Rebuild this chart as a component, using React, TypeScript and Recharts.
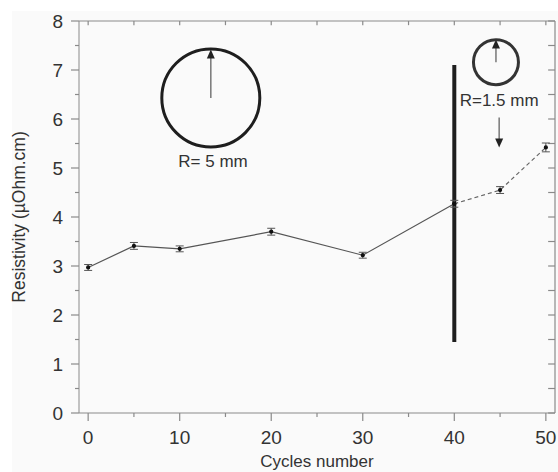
import React from "react";
import {
  ComposedChart,
  Line,
  XAxis,
  YAxis,
  ErrorBar,
  ReferenceLine,
  ReferenceDot,
  Label,
} from "recharts";

// values
const cycles = [0, 5, 10, 20, 30, 40, 45, 50];
const resistivity = [2.97, 3.41, 3.35, 3.7, 3.22, 4.27, 4.55, 5.42];
const errors = [0.06, 0.07, 0.06, 0.07, 0.06, 0.07, 0.07, 0.09];
// last point of the R=5 mm run, where the dashed R=1.5 mm run starts
const switchIndex = 5;

const xDomain: [number, number] = [-1, 51];
const yDomain: [number, number] = [0, 8];
const xTicks = [0, 5, 10, 15, 20, 25, 30, 35, 40, 45, 50];
const yTicks = [0, 0.5, 1, 1.5, 2, 2.5, 3, 3.5, 4, 4.5, 5, 5.5, 6, 6.5, 7, 7.5, 8];

const data = cycles.map((c, i) => ({
  cycle: c,
  solid: i <= switchIndex ? resistivity[i] : null,
  dashed: i >= switchIndex ? resistivity[i] : null,
  errSolid: i <= switchIndex ? errors[i] : null,
  errDashed: i > switchIndex ? errors[i] : null,
}));

const AXIS = "#8a8a8a";
const TEXT = "#333";
const FONT = "Liberation Sans, Arial, sans-serif";

const isMajorX = (v: number) => v % 10 === 0;
const isMajorY = (v: number) => Number.isInteger(v);

const LeftTick = (props: any) => {
  const { x, y, payload } = props;
  const major = isMajorY(payload.value);
  return (
    <g>
      <line x1={x} y1={y} x2={x - (major ? 8 : 4)} y2={y} stroke={AXIS} strokeWidth={1.2} />
      {major && (
        <text x={x - 16} y={y} dy="0.35em" textAnchor="end" fontSize={19} fill={TEXT} fontFamily={FONT}>
          {payload.value}
        </text>
      )}
    </g>
  );
};

const BottomTick = (props: any) => {
  const { x, y, payload } = props;
  const major = isMajorX(payload.value);
  return (
    <g>
      <line x1={x} y1={y} x2={x} y2={y + (major ? 8 : 4)} stroke={AXIS} strokeWidth={1.2} />
      {major && (
        <text x={x} y={y + 24} dy="0.35em" textAnchor="middle" fontSize={19} fill={TEXT} fontFamily={FONT}>
          {payload.value}
        </text>
      )}
    </g>
  );
};

const Arrow = (props: any) => {
  const { x1, y1, x2, y2, stroke } = props;
  const dir = y2 < y1 ? 1 : -1;
  return (
    <g>
      <line x1={x1} y1={y1} x2={x2} y2={y2 + dir * 8} stroke={stroke} strokeWidth={1.5} />
      <polygon
        points={`${x2},${y2} ${x2 - 4},${y2 + dir * 9} ${x2 + 4},${y2 + dir * 9}`}
        fill="#222"
      />
    </g>
  );
};

// inward tick marks on the top and right frame, in data units (~4px and ~7px)
const topTickLen = 0.085;
const rightTickLen = 0.75;

// annotation anchors in data units
const bigCircle = { x: 13.4, y: 6.43, top: 7.42 };
const smallCircle = { x: 44.55, y: 7.16, top: 7.62 };

export default function App() {
  return (
    <div style={{ position: "absolute", left: 0, top: 0, width: 558, height: 472, background: "#fff" }}>
      <div style={{ position: "absolute", left: 12, top: 11, right: 0, bottom: 0, background: "#fafafa" }} />
      <div style={{ position: "absolute", left: 0, top: 0 }}>
        <ComposedChart width={558} height={472} data={data} margin={{ top: 21, right: 3, bottom: 0, left: 0 }}>
          <XAxis
            dataKey="cycle"
            type="number"
            domain={xDomain}
            ticks={xTicks}
            interval={0}
            height={59}
            stroke={AXIS}
            tickSize={0}
            tickMargin={0}
            tickLine={false}
            tick={<BottomTick />}
          >
            <Label
              value="Cycles number"
              position="insideBottom"
              offset={5}
              fontSize={17}
              fill={TEXT}
              fontFamily={FONT}
            />
          </XAxis>
          <YAxis
            type="number"
            domain={yDomain}
            ticks={yTicks}
            interval={0}
            width={79}
            stroke={AXIS}
            tickSize={0}
            tickMargin={0}
            tickLine={false}
            tick={<LeftTick />}
          >
            <Label
              value="Resistivity (µOhm.cm)"
              angle={-90}
              position="insideLeft"
              offset={19}
              fontSize={17.5}
              fill={TEXT}
              fontFamily={FONT}
              style={{ textAnchor: "middle" }}
            />
          </YAxis>

          {/* frame: top and right borders with inward ticks */}
          <ReferenceLine y={yDomain[1]} stroke={AXIS} strokeWidth={1.2} ifOverflow="visible" />
          <ReferenceLine x={xDomain[1]} stroke={AXIS} strokeWidth={1.2} ifOverflow="visible" />
          {xTicks.map((t) => (
            <ReferenceLine
              key={`tt${t}`}
              segment={[
                { x: t, y: yDomain[1] },
                { x: t, y: yDomain[1] - topTickLen },
              ]}
              stroke={AXIS}
              strokeWidth={1.2}
              ifOverflow="visible"
            />
          ))}
          {yTicks.map((t) => (
            <ReferenceLine
              key={`rt${t}`}
              segment={[
                { x: xDomain[1], y: t },
                { x: xDomain[1] - rightTickLen, y: t },
              ]}
              stroke={AXIS}
              strokeWidth={1.2}
              ifOverflow="visible"
            />
          ))}

          <ReferenceLine
            segment={[
              { x: 40, y: 1.45 },
              { x: 40, y: 7.1 },
            ]}
            stroke="#1e1e1e"
            strokeWidth={4}
          />

          <Line
            dataKey="solid"
            stroke="#555"
            strokeWidth={1.2}
            dot={{ r: 1.5, fill: "#111", stroke: "#111" }}
            connectNulls={false}
            isAnimationActive={false}
          >
            <ErrorBar dataKey="errSolid" width={4} stroke="#555" strokeWidth={1} direction="y" />
          </Line>
          <Line
            dataKey="dashed"
            stroke="#666"
            strokeWidth={1.2}
            strokeDasharray="4 3"
            dot={{ r: 1.5, fill: "#111", stroke: "#111", strokeDasharray: "0" }}
            connectNulls={false}
            isAnimationActive={false}
          >
            <ErrorBar dataKey="errDashed" width={4} stroke="#555" strokeWidth={1} strokeDasharray="0" direction="y" />
          </Line>

          <ReferenceDot x={bigCircle.x} y={bigCircle.y} r={49} fill="none" stroke="#1e1e1e" strokeWidth={3} />
          <ReferenceLine
            segment={[
              { x: bigCircle.x, y: bigCircle.y },
              { x: bigCircle.x, y: bigCircle.top },
            ]}
            stroke="#777"
            shape={<Arrow />}
          />
          <ReferenceDot
            x={13.64}
            y={5.14}
            r={0}
            fill="none"
            stroke="none"
            label={{ value: "R= 5 mm", position: "center", fontSize: 17, fill: TEXT, fontFamily: FONT }}
          />

          <ReferenceDot x={smallCircle.x} y={smallCircle.y} r={22.5} fill="none" stroke="#333" strokeWidth={3} />
          <ReferenceLine
            segment={[
              { x: smallCircle.x, y: smallCircle.y },
              { x: smallCircle.x, y: smallCircle.top },
            ]}
            stroke="#777"
            shape={<Arrow />}
          />
          <ReferenceDot
            x={44.9}
            y={6.38}
            r={0}
            fill="none"
            stroke="none"
            label={{ value: "R=1.5 mm", position: "center", fontSize: 17, fill: TEXT, fontFamily: FONT }}
          />
          <ReferenceLine
            segment={[
              { x: 44.9, y: 6.03 },
              { x: 44.9, y: 5.42 },
            ]}
            stroke="#777"
            shape={<Arrow />}
          />
        </ComposedChart>
      </div>
    </div>
  );
}
